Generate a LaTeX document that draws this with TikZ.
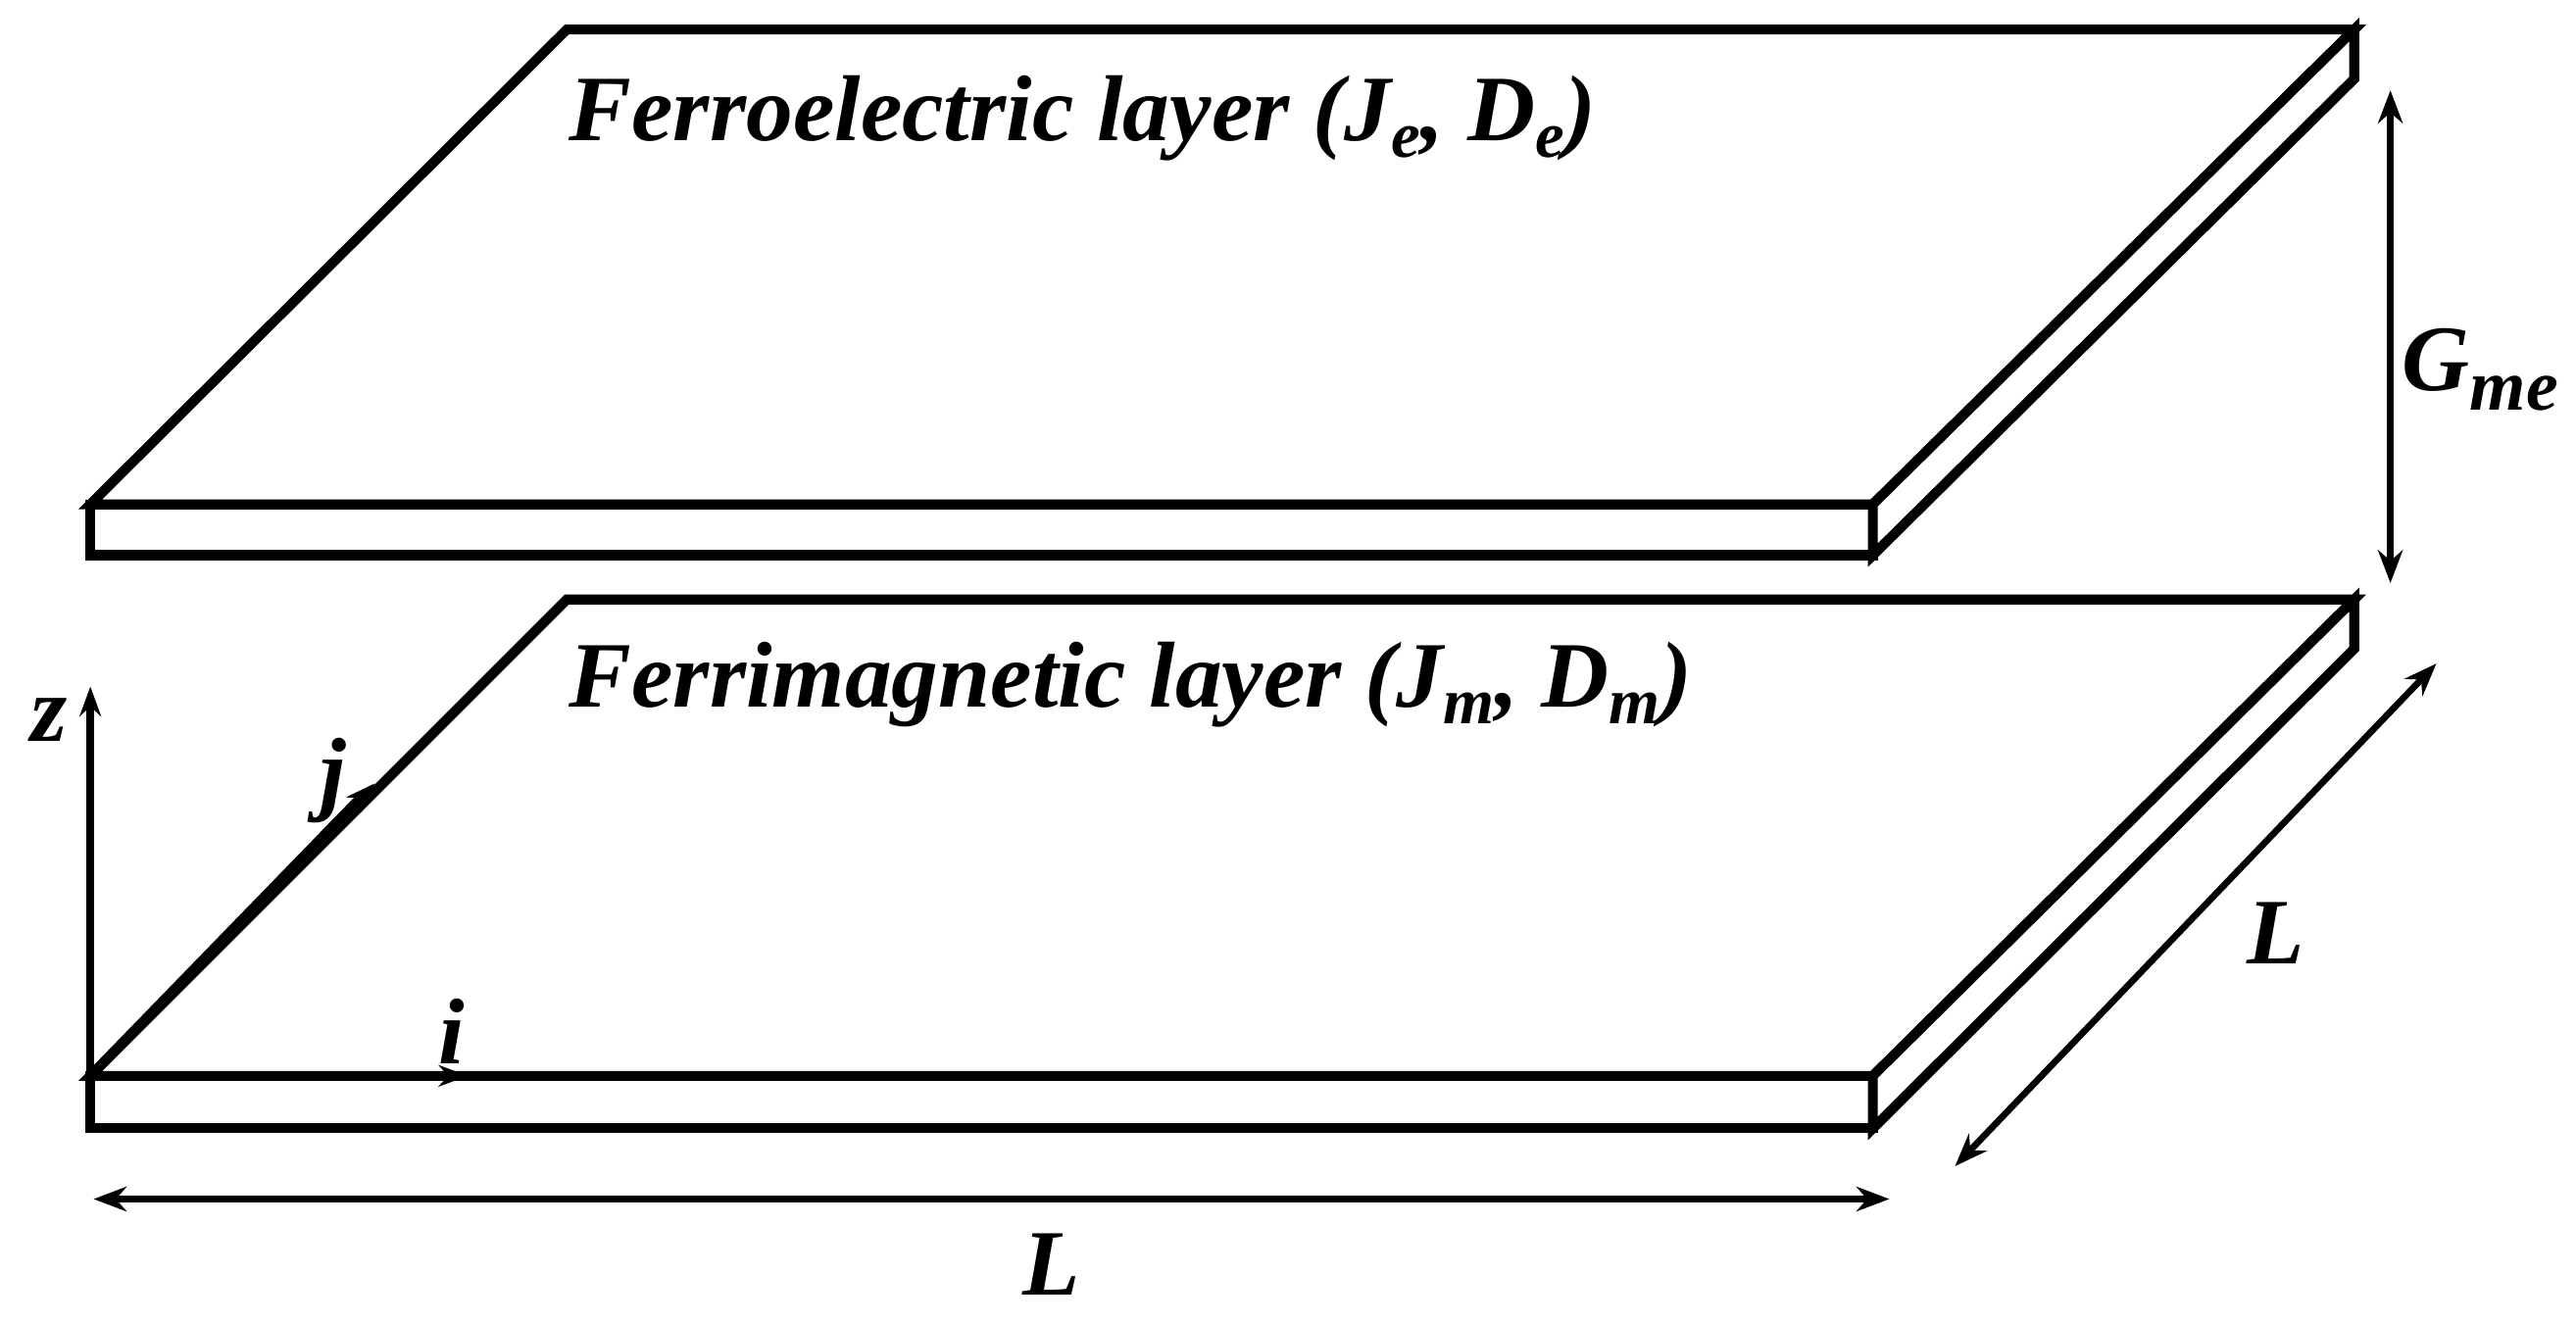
\documentclass[tikz,border=0pt]{standalone}
\usepackage{fontspec}
\setmainfont{Liberation Serif}
\usetikzlibrary{arrows.meta}
\begin{document}
\begin{tikzpicture}[x=1pt,y=-1pt,line join=miter,
  slab/.style={line width=6pt,fill=white},
  dim/.style={line width=4pt,{Stealth[length=20pt,width=15pt]}-{Stealth[length=20pt,width=15pt]}},
  ax/.style={line width=4.5pt,-{Stealth[length=18pt,width=13pt]}},
  lab/.style={font=\fontsize{57}{57}\selectfont\bfseries\itshape}]
\useasboundingbox (0,0) rectangle (1568,805);
% top slab
\draw[slab] (55,307) -- (345,18) -- (1433,18) -- (1140,307) -- cycle;
\draw[slab] (55,307) rectangle (1140,338);
\draw[slab] (1140,307) -- (1433,18) -- (1433,48) -- (1140,338) -- cycle;
% bottom slab
\draw[slab] (55,655) -- (345,365) -- (1433,365) -- (1140,655) -- cycle;
\draw[slab] (55,655) rectangle (1140,687);
\draw[slab] (1140,655) -- (1433,365) -- (1433,395) -- (1140,687) -- cycle;
% axes
\coordinate (o) at (55,655);
\coordinate (zt) at (55,418);
\coordinate (jt) at (228,477);
\coordinate (it) at (285,655);
\draw[ax] (o) -- (zt);
\draw[ax,line width=6pt] (o) -- (jt);
\draw[ax] (o) -- (it);
\node[lab] (zl) at (30,438) {z};
\node[lab] (jl) at (203,475) {j};
\node[lab] (il) at (275,628) {i};
% dims
\coordinate (l1) at (57,730); \coordinate (l2) at (1150,730);
\draw[dim] (l1) -- (l2);
\node[lab] (L1) at (640,770) {L};
\coordinate (r1) at (1190,710); \coordinate (r2) at (1483,404);
\draw[dim] (r1) -- (r2);
\node[lab] (L2) at (1385,568) {L};
\coordinate (g1) at (1455,55); \coordinate (g2) at (1455,355);
\draw[dim] (g1) -- (g2);
\node[lab] (G) at (1510,225) {G\textsubscript{\fontsize{44}{44}\selectfont me}};
% labels
\node[lab,anchor=west] (fe) at (343,72) {Ferroelectric layer (J\textsubscript{e}, D\textsubscript{e})};
\node[lab,anchor=west] (fm) at (343,417) {Ferrimagnetic layer (J\textsubscript{m}, D\textsubscript{m})};
\end{tikzpicture}
\end{document}
